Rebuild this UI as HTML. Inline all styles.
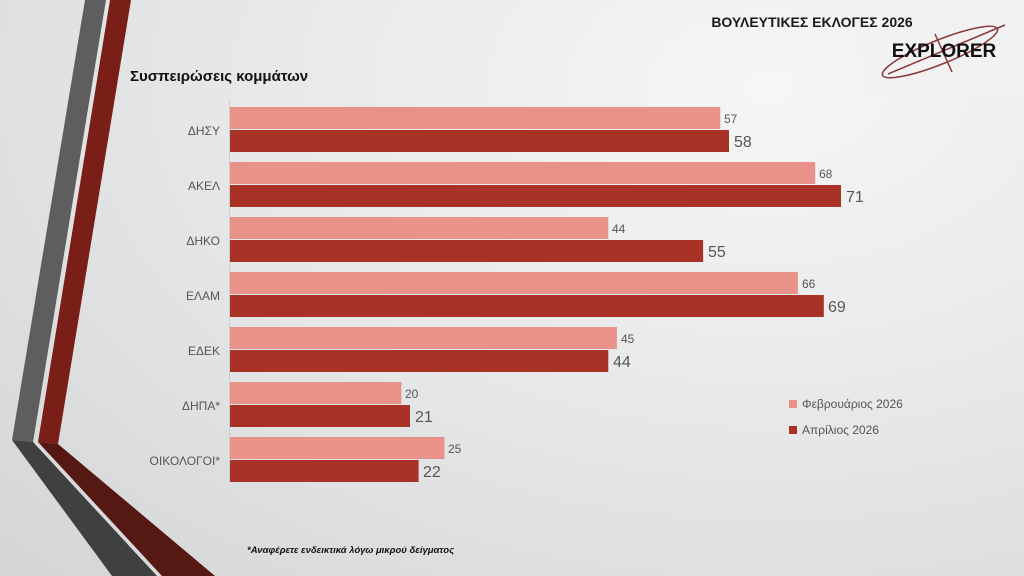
<!DOCTYPE html>
<html><head><meta charset="utf-8"><style>
html,body{margin:0;padding:0;}
body{width:1024px;height:576px;overflow:hidden;background:radial-gradient(ellipse at 75% 15%,#f6f6f6 0%,#e8e9ea 45%,#d3d5d7 100%);font-family:"Liberation Sans","DejaVu Sans",sans-serif;}
</style></head><body>
<svg width="1024" height="576" viewBox="0 0 1024 576" xmlns="http://www.w3.org/2000/svg" style="position:absolute;left:0;top:0">
<rect x="862" y="0" width="162" height="95" fill="#f2f2f2"/>
<polygon points="85,0 106,0 33,442 12,440" fill="#5e5e5e"/>
<polygon points="12,440 33,442 157,576 112,576" fill="#404040"/>
<polygon points="110,0 131,0 58,444 38,442" fill="#7a1f17"/>
<polygon points="38,442 58,444 215,576 162,576" fill="#561812"/>
<g fill="none" stroke="#8a3a3a" stroke-width="1.5">
<ellipse cx="940" cy="52" rx="62" ry="12" transform="rotate(-22 940 52)"/>
<line x1="888" y1="74" x2="1005" y2="25"/>
<line x1="935" y1="34" x2="952" y2="72"/>
</g>
<text x="812" y="27" font-size="14" font-weight="bold" fill="#1a1a1a" text-anchor="middle">ΒΟΥΛΕΥΤΙΚΕΣ ΕΚΛΟΓΕΣ 2026</text>
<text x="944" y="57" font-size="19" font-weight="bold" fill="#111" text-anchor="middle">EXPLORER</text>
<text x="130" y="81" font-size="15" font-weight="bold" fill="#111">Συσπειρώσεις κομμάτων</text>
<line x1="229.5" y1="100" x2="229.5" y2="483" stroke="#cfcfcf"/>
<g font-size="12" fill="#555" text-anchor="end">
<text x="220" y="135">ΔΗΣΥ</text>
<text x="220" y="190">ΑΚΕΛ</text>
<text x="220" y="245">ΔΗΚΟ</text>
<text x="220" y="300">ΕΛΑΜ</text>
<text x="220" y="355">ΕΔΕΚ</text>
<text x="220" y="410">ΔΗΠΑ*</text>
<text x="220" y="465">ΟΙΚΟΛΟΓΟΙ*</text>
</g>
<g fill="#E8928A">
<rect x="230" y="107" width="490.3" height="22"/>
<rect x="230" y="162" width="585.2" height="22"/>
<rect x="230" y="217" width="378.3" height="22"/>
<rect x="230" y="272" width="567.9" height="22"/>
<rect x="230" y="327" width="386.9" height="22"/>
<rect x="230" y="382" width="171.4" height="22"/>
<rect x="230" y="437" width="214.5" height="22"/>
</g>
<g fill="#A93226">
<rect x="230" y="130" width="499" height="22"/>
<rect x="230" y="185" width="611" height="22"/>
<rect x="230" y="240" width="473.1" height="22"/>
<rect x="230" y="295" width="593.8" height="22"/>
<rect x="230" y="350" width="378.3" height="22"/>
<rect x="230" y="405" width="180" height="22"/>
<rect x="230" y="460" width="188.6" height="22"/>
</g>
<g font-size="12" fill="#555">
<text x="724" y="123">57</text>
<text x="819" y="178">68</text>
<text x="612" y="233">44</text>
<text x="802" y="288">66</text>
<text x="621" y="343">45</text>
<text x="405" y="398">20</text>
<text x="448" y="453">25</text>
</g>
<g font-size="16" fill="#555">
<text x="734" y="147">58</text>
<text x="846" y="202">71</text>
<text x="708" y="257">55</text>
<text x="828" y="312">69</text>
<text x="613" y="367">44</text>
<text x="415" y="422">21</text>
<text x="423" y="477">22</text>
</g>
<g font-size="12" fill="#555">
<rect x="789" y="400" width="8" height="8" fill="#E8928A"/>
<text x="802" y="408">Φεβρουάριος 2026</text>
<rect x="789" y="426" width="8" height="8" fill="#A93226"/>
<text x="802" y="434">Απρίλιος 2026</text>
</g>
<text x="247" y="553" font-size="9.5" font-weight="bold" font-style="italic" fill="#111">*Αναφέρετε ενδεικτικά λόγω μικρού δείγματος</text>
</svg>
</body></html>
